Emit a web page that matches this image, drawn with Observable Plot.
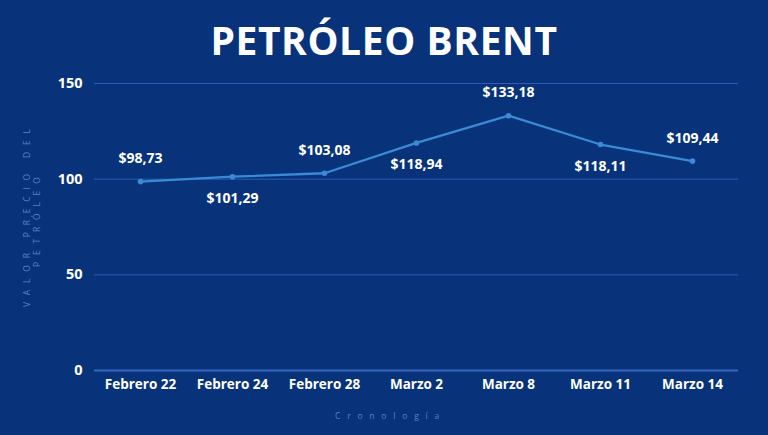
<!DOCTYPE html>
<html><head><meta charset="utf-8">
<script src="https://cdn.jsdelivr.net/npm/d3@7"></script>
<script src="https://cdn.jsdelivr.net/npm/@observablehq/plot@0.6"></script>
<style>
html,body{margin:0;padding:0;background:#08327a;}
#wrap{width:768px;height:435px;overflow:hidden;background:#08327a;font-family:"Open Sans",sans-serif;}
#title{height:70px;line-height:80px;text-align:center;color:#fff;font-weight:700;font-size:39px;letter-spacing:0.6px;}
</style>
</head><body>
<div id="wrap"><div id="title">PETRÓLEO BRENT</div><div id="chart"></div></div>
<script>
const dates = ["Febrero 22","Febrero 24","Febrero 28","Marzo 2","Marzo 8","Marzo 11","Marzo 14"];
const prices = [98.73,101.29,103.08,118.94,133.18,118.11,109.44];
const labels = ["$98,73","$101,29","$103,08","$118,94","$133,18","$118,11","$109,44"];
const placement = ["above","below","above","below","above","below","above"];
const yTicks = [0,50,100,150];
const yTitleLines = ["VALOR PRECIO DEL","PETRÓLEO"];
const xTitle = "Cronología";

const data = dates.map((d,i)=>({date:d, price:prices[i], label:labels[i], pos:placement[i]}));

const chart = Plot.plot({
  width:768, height:365,
  marginTop:13, marginBottom:65, marginLeft:94, marginRight:30,
  style:{background:"transparent", color:"#fff", fontFamily:"Open Sans, sans-serif"},
  x:{type:"point", domain:dates, padding:0.5, label:null},
  y:{domain:[0,150], ticks:yTicks, label:null},
  marks:[
    Plot.gridY(yTicks.filter(t=>t>0), {stroke:"#2c5fb4", strokeOpacity:1, strokeWidth:1}),
    Plot.ruleY([0], {stroke:"#3566bd", strokeWidth:2}),
    Plot.axisY({ticks:yTicks, tickSize:0, tickPadding:12, fontSize:14.5, fontWeight:700, fill:"#fff", label:null}),
    Plot.axisX({tickSize:0, tickPadding:9, fontSize:13.5, fontWeight:700, fill:"#fff", label:null}),
    Plot.line(data, {x:"date", y:"price", stroke:"#3a8ad6", strokeWidth:2.3}),
    Plot.dot(data, {x:"date", y:"price", r:2.8, fill:"#3a8ad6"}),
    Plot.text(data.filter(d=>d.pos==="above"), {x:"date", y:"price", text:"label", dy:-23, fill:"#fff", fontSize:14, fontWeight:700}),
    Plot.text(data.filter(d=>d.pos==="below"), {x:"date", y:"price", text:"label", dy:22, fill:"#fff", fontSize:14, fontWeight:700}),
    Plot.text([yTitleLines[0]], {frameAnchor:"left", rotate:-90, textAnchor:"start", dx:-67, dy:80, fill:"#5582cc", fontSize:8.5}),
    Plot.text([yTitleLines[1]], {frameAnchor:"left", rotate:-90, textAnchor:"start", dx:-57, dy:40, fill:"#5582cc", fontSize:8.5}),
    Plot.text([xTitle], {frameAnchor:"bottom", dy:48, dx:-26, fill:"#5582cc", fontSize:8.5})
  ]
});
d3.select(chart).selectAll("text")
  .filter(function(){ const t=this.textContent; return yTitleLines.includes(t) || t===xTitle; })
  .style("letter-spacing","6.8px");
document.getElementById("chart").appendChild(chart);
</script>
</body></html>
